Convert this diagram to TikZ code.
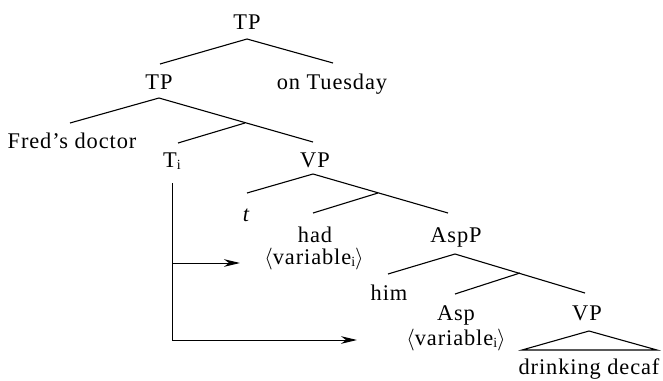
\documentclass[tikz,border=0pt]{standalone}
\usepackage{fontspec}
\setmainfont[LetterSpace=4]{Liberation Serif}
\usetikzlibrary{arrows.meta}
\newcommand\subi{\raisebox{-1.3pt}{\fontsize{7}{7}\selectfont i}}
\begin{document}
\begin{tikzpicture}[x=0.5pt,y=-0.5pt,
  lab/.style={anchor=base,inner sep=0pt,font=\fontsize{11.2}{13}\selectfont},
  br/.style={line width=0.55pt},
  mv/.style={line width=0.5pt},
  mvarr/.style={mv,-{Stealth[length=8pt,width=3.8pt,inset=2.5pt]}}]
\useasboundingbox (0,0) rectangle (663,380);
% labels
\node[lab] (tp1) at (247,29) {TP};
\node[lab] (tp2) at (159,89) {TP};
\node[lab] (tue) at (332,89) {on Tuesday};
\node[lab] (fred) at (72,148) {Fred's doctor};
\node[lab] (ti) at (172,167) {T\subi};
\node[lab] (vp1) at (315,167) {VP};
\node[lab] (t) at (246,221) {\itshape t};
\node[lab] (had) at (315,242) {had};
\node[lab] (var1) at (314,264) {$\langle$variable\subi$\rangle$};
\node[lab] (aspp) at (456,242) {AspP};
\node[lab] (him) at (389,300) {him};
\node[lab] (asp) at (456,320) {Asp};
\node[lab] (var2) at (456,345) {$\langle$variable\subi$\rangle$};
\node[lab] (vp2) at (587,320) {VP};
\node[lab] (dd) at (589,374) {drinking decaf};
% branch points
\coordinate (tp1a) at (247,39);
\coordinate (tp2t) at (160,64);
\coordinate (tuet) at (333,63);
\coordinate (tp2a) at (159,98);
\coordinate (fredt) at (70,123);
\coordinate (vp1t) at (313,142);
\coordinate (tbar) at (245,123);
\coordinate (tit) at (178,143);
\coordinate (vp1a) at (313,174);
\coordinate (tt) at (247,193);
\coordinate (asppt) at (448,213);
\coordinate (vbar) at (378,193);
\coordinate (hadt) at (313,213);
\coordinate (asppa) at (455,254);
\coordinate (himt) at (388,274);
\coordinate (vp2t) at (585,293);
\coordinate (aspbar) at (520,273);
\coordinate (aspt) at (455,294);
\coordinate (vp2a) at (589,331);
\coordinate (trl) at (522,350);
\coordinate (trr) at (657,350);
% branches
\draw[br] (tp2t) -- (tp1a) -- (tuet);
\draw[br] (fredt) -- (tp2a) -- (vp1t);
\draw[br] (tbar) -- (tit);
\draw[br] (tt) -- (vp1a) -- (asppt);
\draw[br] (vbar) -- (hadt);
\draw[br] (himt) -- (asppa) -- (vp2t);
\draw[br] (aspbar) -- (aspt);
\draw[br] (vp2a) -- (trl) -- (trr) -- cycle;
% movement arrows
\coordinate (mvtop) at (172,183);
\coordinate (mvmid) at (172,263);
\coordinate (mvcorner) at (172,340);
\coordinate (mvend1) at (240,263);
\coordinate (mvend2) at (357,340);
\draw[mv] (mvtop) -- (mvcorner);
\draw[mvarr] (mvmid) -- (mvend1);
\draw[mvarr] (mvcorner) -- (mvend2);
\end{tikzpicture}
\end{document}
